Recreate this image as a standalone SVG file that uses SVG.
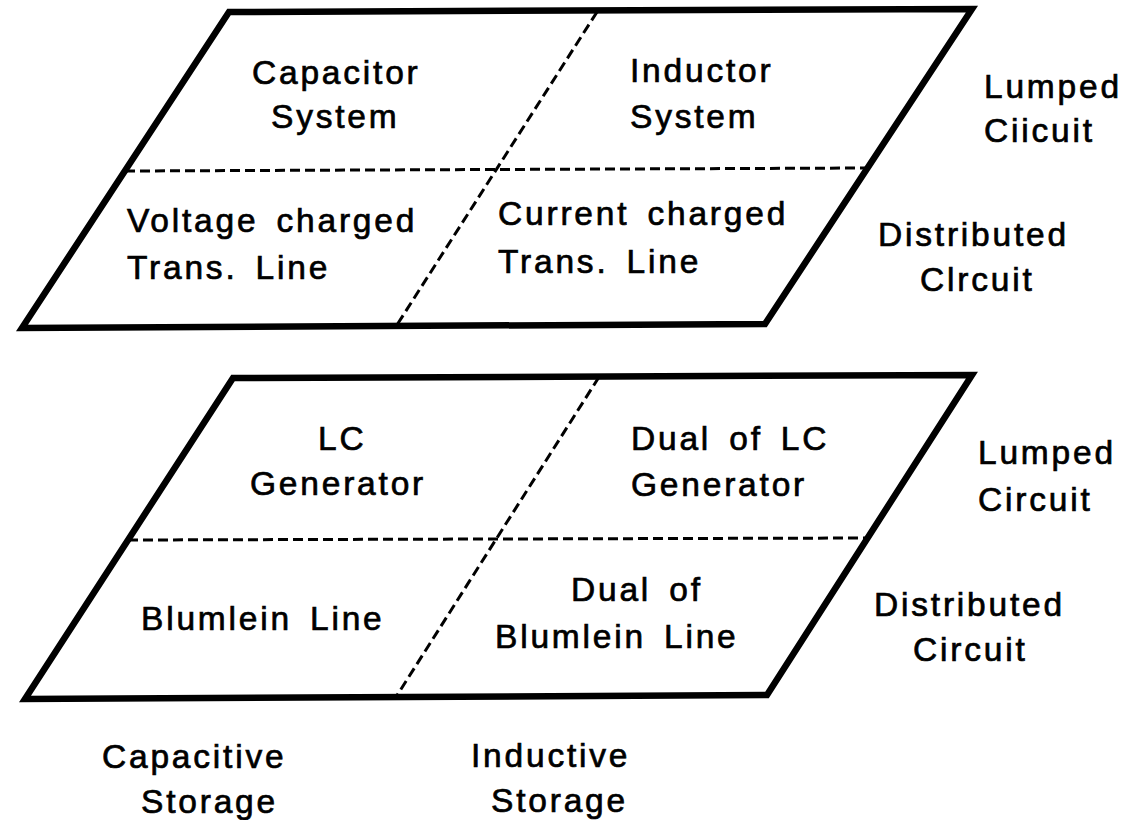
<svg xmlns="http://www.w3.org/2000/svg" width="1128" height="820" viewBox="0 0 1128 820">
  <style>
    .frame { fill: none; stroke: #000; stroke-width: 6.5; stroke-linejoin: miter; }
    .divider { fill: none; stroke: #000; stroke-width: 3; stroke-dasharray: 10 5; }
    .label { font-family: "Liberation Sans", Arial, Helvetica, sans-serif; font-size: 33.5px; fill: #000; stroke: #000; stroke-width: 0.7px; letter-spacing: 2.8px; word-spacing: 6px; }
  </style>
  <rect width="1128" height="820" fill="#fff"/>

  <!-- Upper plane: pulse generator classes -->
  <g id="plane-upper">
    <polygon class="frame" points="229,12 972,9 765,324 22,328"/>
  </g>
  <g id="dividers-upper">
    <line class="divider" x1="125" y1="171" x2="866" y2="168"/>
    <line class="divider" x1="597" y1="12" x2="395" y2="328"/>
  </g>
  <g id="cell-capacitor-system">
    <text class="label" x="252" y="84">Capacitor</text>
    <text class="label" x="271" y="128">System</text>
  </g>
  <g id="cell-inductor-system">
    <text class="label" x="630" y="82">Inductor</text>
    <text class="label" x="630" y="128">System</text>
  </g>
  <g id="cell-voltage-line">
    <text class="label" x="127" y="232">Voltage charged</text>
    <text class="label" x="127" y="279">Trans. Line</text>
  </g>
  <g id="cell-current-line">
    <text class="label" x="498" y="225">Current charged</text>
    <text class="label" x="498" y="273">Trans. Line</text>
  </g>
  <g id="row-upper-lumped">
    <text class="label" x="984" y="98">Lumped</text>
    <text class="label" x="984" y="142">Ciicuit</text>
  </g>
  <g id="row-upper-distributed">
    <text class="label" x="878" y="246">Distributed</text>
    <text class="label" x="920" y="291">Clrcuit</text>
  </g>

  <!-- Lower plane: generator realisations -->
  <g id="plane-lower">
    <polygon class="frame" points="233,378 972,375 767,695 25,699"/>
  </g>
  <g id="dividers-lower">
    <line class="divider" x1="128" y1="540" x2="866" y2="538"/>
    <line class="divider" x1="599" y1="377" x2="396" y2="697"/>
  </g>
  <g id="cell-lc-generator">
    <text class="label" x="318" y="450">LC</text>
    <text class="label" x="250" y="495">Generator</text>
  </g>
  <g id="cell-dual-lc">
    <text class="label" x="631" y="450">Dual of LC</text>
    <text class="label" x="631" y="496">Generator</text>
  </g>
  <g id="cell-blumlein">
    <text class="label" x="141" y="630">Blumlein Line</text>
  </g>
  <g id="cell-dual-blumlein">
    <text class="label" x="571" y="601">Dual of</text>
    <text class="label" x="495" y="648">Blumlein Line</text>
  </g>
  <g id="row-lower-lumped">
    <text class="label" x="978" y="464">Lumped</text>
    <text class="label" x="978" y="511">Circuit</text>
  </g>
  <g id="row-lower-distributed">
    <text class="label" x="874" y="616">Distributed</text>
    <text class="label" x="913" y="661">Circuit</text>
  </g>

  <!-- Column captions -->
  <g id="col-capacitive">
    <text class="label" x="102" y="768">Capacitive</text>
    <text class="label" x="141" y="813">Storage</text>
  </g>
  <g id="col-inductive">
    <text class="label" x="471" y="767">Inductive</text>
    <text class="label" x="491" y="812">Storage</text>
  </g>
</svg>
